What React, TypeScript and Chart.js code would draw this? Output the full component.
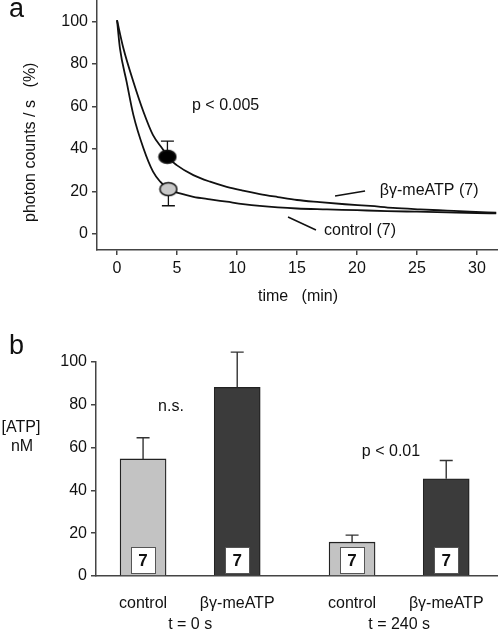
import React, { useEffect, useRef } from 'react';
import { Chart, registerables } from 'chart.js';

Chart.register(...registerables);

const FONT = '"Liberation Sans", Arial, Helvetica, sans-serif';

// ---------- Panel a : photon counts ----------
const controlTime = [0, 0.25, 0.8, 1.36, 2.2, 3.0, 3.6, 4.28, 5.25, 6.36, 7.75, 9.14, 10.5, 11.9, 13.4, 15, 17.5, 20, 22.5, 25, 27.5, 30, 31.6];
const controlValue = [100.5, 87, 71.5, 56, 40.3, 29.3, 24.6, 21.1, 19.1, 17.5, 16.3, 15.2, 14.1, 13.2, 12.5, 12.0, 11.6, 11.2, 10.8, 10.5, 10.2, 9.9, 9.7];
const meAtpTime = [0, 0.53, 1.36, 2.2, 3.0, 3.86, 4.2, 4.97, 6.36, 7.75, 9.14, 10.5, 11.9, 13.4, 15, 16.9, 19, 21.1, 23, 25.25, 27.5, 29.4, 31.6];
const meAtpValue = [100.5, 87.3, 71.6, 57.5, 46.5, 39.5, 36.3, 32.4, 27.7, 24.6, 22.2, 20.4, 18.8, 17.4, 16.0, 15.0, 14.0, 13.2, 12.3, 11.6, 11.0, 10.5, 10.0];
const markerTime = [4.2, 4.28];
const markerValue = [36.3, 21.1];
const markerErrUp = [7.4, 0];
const markerErrDown = [0, 7.8];
const markerFill = ['#000000', '#c8c8c8'];
const xTicksA = [0, 5, 10, 15, 20, 25, 30];
const yTicksA = [0, 20, 40, 60, 80, 100];

// ---------- Panel b : [ATP] ----------
const barCategories = ['control', 'βγ-meATP', 'control', 'βγ-meATP'];
const barGroupIndex = [0, 0, 1, 1];
const groupLabels = ['t = 0 s', 't = 240 s'];
const barValues = [54.7, 88.2, 15.8, 45.4];
const barErrors = [9.9, 16.4, 3.3, 8.6];
const barN = ['7', '7', '7', '7'];
const yTicksB = [0, 20, 40, 60, 80, 100];

const LIGHT = '#c3c3c3';
const DARK = '#3b3b3b';

const H_A = 312;
const H_B = 632 - H_A;

function ellipse(fill: string) {
  const c = document.createElement('canvas');
  c.width = 20;
  c.height = 16;
  const g = c.getContext('2d')!;
  g.beginPath();
  g.ellipse(10, 8, 8.5, 6.5, 0, 0, Math.PI * 2);
  g.fillStyle = fill;
  g.fill();
  g.lineWidth = 1.5;
  g.strokeStyle = '#111';
  g.stroke();
  return c;
}

const axisCommon = {
  border: { display: true, color: '#444', width: 1.5 },
  grid: { display: true, drawOnChartArea: false, drawTicks: true, tickLength: 5, color: '#444', lineWidth: 1.5 },
};

const noPad = (s: any) => {
  s.paddingTop = 0;
  s.paddingBottom = 0;
  s.paddingLeft = 0;
  s.paddingRight = 0;
};

export default function App() {
  const refA = useRef<HTMLCanvasElement>(null);
  const refB = useRef<HTMLCanvasElement>(null);

  useEffect(() => {
    const pts = (xs: number[], ys: number[]) => xs.map((x, i) => ({ x, y: ys[i] }));

    const annotA = {
      id: 'annotA',
      beforeDatasetsDraw(chart: any) {
        const { ctx, scales } = chart;
        const xs = scales.x, ys = scales.y;
        ctx.save();
        ctx.strokeStyle = '#111';
        ctx.lineWidth = 1.3;
        markerTime.forEach((t, i) => {
          const px = xs.getPixelForValue(t);
          const p0 = ys.getPixelForValue(markerValue[i]);
          const segs: number[] = [];
          if (markerErrUp[i]) segs.push(ys.getPixelForValue(markerValue[i] + markerErrUp[i]));
          if (markerErrDown[i]) segs.push(ys.getPixelForValue(markerValue[i] - markerErrDown[i]));
          segs.forEach((pe) => {
            ctx.beginPath();
            ctx.moveTo(px, p0);
            ctx.lineTo(px, pe);
            ctx.moveTo(px - 6.5, pe);
            ctx.lineTo(px + 6.5, pe);
            ctx.stroke();
          });
        });
        ctx.restore();
      },
      afterDraw(chart: any) {
        const { ctx, scales } = chart;
        const xs = scales.x, ys = scales.y;
        const X = (v: number) => xs.getPixelForValue(v);
        const Y = (v: number) => ys.getPixelForValue(v);
        ctx.save();
        ctx.fillStyle = '#111';
        ctx.strokeStyle = '#111';
        ctx.lineWidth = 1.5;
        ctx.font = `16px ${FONT}`;
        ctx.textBaseline = 'middle';
        ctx.textAlign = 'left';
        ctx.fillText('p < 0.005', X(6.25), Y(60.6));
        ctx.fillText('βγ-meATP (7)', X(21.9), Y(20.2));
        ctx.fillText('control (7)', X(17.25), Y(1.4));
        ctx.beginPath();
        ctx.moveTo(X(18.17), Y(17.9));
        ctx.lineTo(X(20.67), Y(20.2));
        ctx.moveTo(X(14.25), Y(8.0));
        ctx.lineTo(X(16.58), Y(1.9));
        ctx.stroke();
        // axis titles
        ctx.textAlign = 'center';
        ctx.fillText('time   (min)', 298, 297);
        ctx.save();
        ctx.translate(31, 0);
        ctx.rotate(-Math.PI / 2);
        ctx.fillText('photon counts / s', -161, 0);
        ctx.fillText('(%)', -75, 0);
        ctx.restore();
        ctx.font = `27px ${FONT}`;
        ctx.textAlign = 'left';
        ctx.textBaseline = 'alphabetic';
        ctx.fillText('a', 9, 17);
        ctx.restore();
      },
    };

    const chartA = new Chart(refA.current!, {
      type: 'line',
      data: {
        datasets: [
          {
            data: pts(markerTime, markerValue),
            showLine: false,
            pointStyle: markerFill.map((f) => ellipse(f)) as any,
            pointRadius: 8,
          },
          {
            data: pts(meAtpTime, meAtpValue),
            borderColor: '#111',
            borderWidth: 1.8,
            pointRadius: 0,
            cubicInterpolationMode: 'monotone',
          },
          {
            data: pts(controlTime, controlValue),
            borderColor: '#111',
            borderWidth: 1.8,
            pointRadius: 0,
            cubicInterpolationMode: 'monotone',
          },
        ],
      },
      options: {
        responsive: false,
        animation: false,
        devicePixelRatio: 1,
        layout: { padding: 0, autoPadding: false },
        plugins: { legend: { display: false }, tooltip: { enabled: false } },
        scales: {
          x: {
            type: 'linear',
            min: -1.67,
            max: 31.75,
            ...axisCommon,
            afterBuildTicks: (s: any) => { s.ticks = xTicksA.map((v) => ({ value: v })); },
            afterFit: (s: any) => { s.height = H_A - 250; noPad(s); },
            ticks: { font: { family: FONT, size: 16 }, color: '#111', padding: 4, autoSkip: false, maxRotation: 0 },
          },
          y: {
            type: 'linear',
            min: -7.5,
            max: 110,
            ...axisCommon,
            afterBuildTicks: (s: any) => { s.ticks = yTicksA.map((v) => ({ value: v })); },
            afterFit: (s: any) => { s.width = 97; noPad(s); },
            ticks: { font: { family: FONT, size: 16 }, color: '#111', padding: 4, autoSkip: false },
          },
        },
      },
      plugins: [annotA],
    });

    // positions of bars on a linear axis: pairs with a wider gap between groups
    const barPos = barCategories.map((_, i) => i + 1 + barGroupIndex[i] * 0.22);

    const annotB = {
      id: 'annotB',
      afterDatasetsDraw(chart: any) {
        const { ctx, scales } = chart;
        const ys = scales.y;
        const meta = chart.getDatasetMeta(0);
        ctx.save();
        ctx.strokeStyle = '#333';
        ctx.lineWidth = 1.4;
        meta.data.forEach((bar: any, i: number) => {
          const top = ys.getPixelForValue(barValues[i]);
          const pe = ys.getPixelForValue(barValues[i] + barErrors[i]);
          ctx.beginPath();
          ctx.moveTo(bar.x, top);
          ctx.lineTo(bar.x, pe);
          ctx.moveTo(bar.x - 6.5, pe);
          ctx.lineTo(bar.x + 6.5, pe);
          ctx.stroke();
        });
        const base = ys.getPixelForValue(0);
        meta.data.forEach((bar: any, i: number) => {
          const w = 24, h = 26;
          const x0 = Math.round(bar.x - w / 2) + 0.5;
          const y0 = Math.round(base - 3 - h) + 0.5;
          ctx.fillStyle = '#fff';
          ctx.fillRect(x0, y0, w, h);
          ctx.strokeStyle = '#555';
          ctx.lineWidth = 1;
          ctx.strokeRect(x0, y0, w, h);
          ctx.fillStyle = '#111';
          ctx.font = `bold 17px ${FONT}`;
          ctx.textAlign = 'center';
          ctx.textBaseline = 'middle';
          ctx.fillText(barN[i], bar.x, y0 + h / 2 + 1);
        });
        ctx.restore();
      },
      afterDraw(chart: any) {
        const { ctx } = chart;
        const meta = chart.getDatasetMeta(0);
        const o = H_A - 300;
        ctx.save();
        ctx.fillStyle = '#111';
        ctx.font = `16px ${FONT}`;
        ctx.textAlign = 'center';
        ctx.textBaseline = 'middle';
        groupLabels.forEach((lab, g) => {
          const xsIn = meta.data.filter((_: any, i: number) => barGroupIndex[i] === g).map((b: any) => b.x);
          const cx = (Math.min(...xsIn) + Math.max(...xsIn)) / 2;
          ctx.fillText(lab, cx, 325 - o);
        });
        ctx.fillText('n.s.', 171, 107 - o);
        ctx.fillText('p < 0.01', 391, 152 - o);
        ctx.fillText('[ATP]', 21, 128 - o);
        ctx.fillText('nM', 22, 147 - o);
        ctx.font = `27px ${FONT}`;
        ctx.textAlign = 'left';
        ctx.textBaseline = 'alphabetic';
        ctx.fillText('b', 9, 54 - o);
        ctx.restore();
      },
    };

    const chartB = new Chart(refB.current!, {
      type: 'bar',
      data: {
        datasets: [
          {
            data: barPos.map((x, i) => ({ x, y: barValues[i] })),
            backgroundColor: barCategories.map((_, i) => (i % 2 === 0 ? LIGHT : DARK)),
            borderColor: '#222',
            borderWidth: 1.3,
            barThickness: 46,
          },
        ],
      },
      options: {
        responsive: false,
        animation: false,
        devicePixelRatio: 1,
        layout: { padding: { top: 362 - H_A, left: 0, right: 0, bottom: 0 }, autoPadding: false },
        plugins: { legend: { display: false }, tooltip: { enabled: false } },
        scales: {
          x: {
            type: 'linear',
            min: 0.5,
            max: 4.77,
            offset: false,
            border: { display: true, color: '#444', width: 1.5 },
            grid: { display: false, offset: false },
            afterBuildTicks: (s: any) => { s.ticks = barPos.map((v) => ({ value: v })); },
            afterFit: (s: any) => { s.height = 632 - 576; noPad(s); },
            ticks: {
              font: { family: FONT, size: 16 },
              color: '#111',
              padding: 10,
              autoSkip: false,
              maxRotation: 0,
              callback: (_v: any, i: number) => barCategories[i],
            },
          },
          y: {
            type: 'linear',
            min: 0,
            max: 100,
            ...axisCommon,
            afterBuildTicks: (s: any) => { s.ticks = yTicksB.map((v) => ({ value: v })); },
            afterFit: (s: any) => { s.width = 96; noPad(s); },
            ticks: { font: { family: FONT, size: 16 }, color: '#111', padding: 4, autoSkip: false },
          },
        },
      },
      plugins: [annotB],
    });

    return () => {
      chartA.destroy();
      chartB.destroy();
    };
  }, []);

  return (
    <div style={{ position: 'absolute', left: 0, top: 0, width: 498, height: 632, background: '#fff' }}>
      <canvas ref={refA} width={498} height={H_A} style={{ display: 'block', width: 498, height: H_A }} />
      <canvas ref={refB} width={498} height={H_B} style={{ display: 'block', width: 498, height: H_B }} />
    </div>
  );
}
